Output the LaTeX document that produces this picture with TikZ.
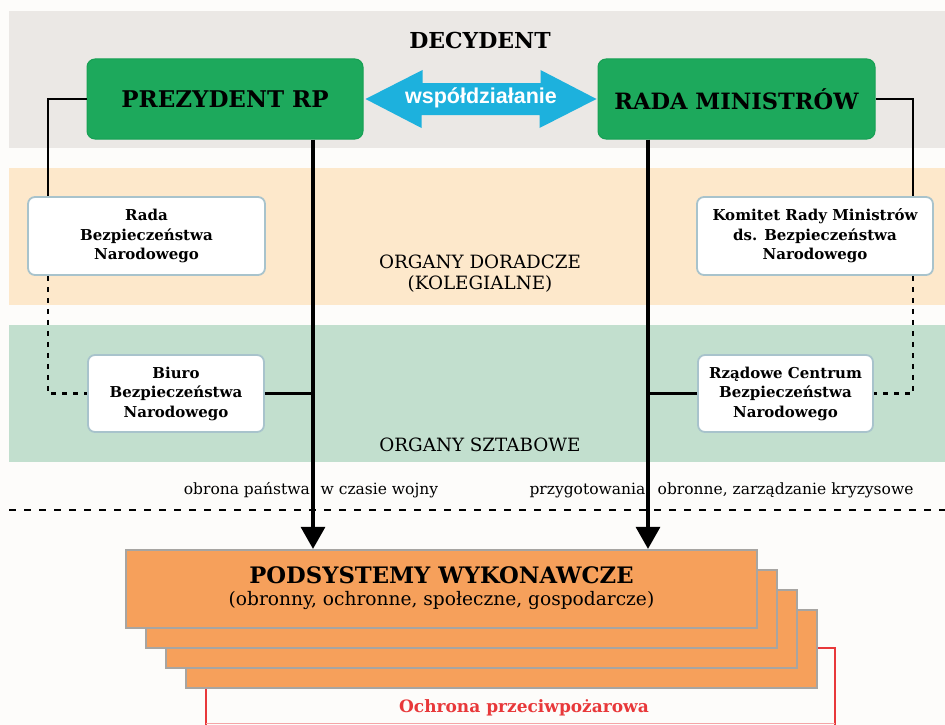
\documentclass[tikz,border=0pt]{standalone}
\usepackage{fontspec}
\setmainfont{DejaVu Serif}
\newfontfamily\sansb{Liberation Sans}
\usetikzlibrary{arrows.meta,calc}
\definecolor{bgw}{HTML}{FDFCFA}
\definecolor{bandgray}{HTML}{EBE8E5}
\definecolor{bandpeach}{HTML}{FDE8CB}
\definecolor{bandgreen}{HTML}{C2DFCE}
\definecolor{gbox}{HTML}{1DA95C}
\definecolor{gboxd}{HTML}{17A054}
\definecolor{cyanar}{HTML}{1DB1DD}
\definecolor{wborder}{HTML}{A8C3CC}
\definecolor{orfill}{HTML}{F6A05B}
\definecolor{orborder}{HTML}{A7A5A2}
\definecolor{redl}{HTML}{E8383A}
\tikzset{
  decbox/.style={draw=gboxd, line width=1pt, fill=gbox, rounded corners=8pt,
    minimum width=276pt, minimum height=80pt, inner sep=0pt,
    font=\fontsize{23}{27}\selectfont\bfseries},
  orgbox/.style={draw=wborder, line width=1.8pt, fill=white, rounded corners=7pt,
    align=center, inner sep=0pt, minimum height=77pt,
    font=\fontsize{15}{19.5}\selectfont\bfseries},
  lbl/.style={inner sep=0pt, align=center, font=\fontsize{18.3}{21}\selectfont},
  small/.style={inner sep=0pt, font=\fontsize{15.5}{18}\selectfont},
  conn/.style={line width=2.4pt, black},
  thick conn/.style={line width=3.2pt, black},
  dconn/.style={line width=2.4pt, black, dash pattern=on 5pt off 6pt},
  downarrow/.style={line width=3.2pt, black, -{Triangle[width=24pt,length=22pt]}},
  layer/.style={draw=orborder, line width=2.2pt, fill=orfill,
    minimum width=631pt, minimum height=78pt, inner sep=0pt},
}
\begin{document}
\begin{tikzpicture}[x=1pt,y=-1pt]
\useasboundingbox (0,0) rectangle (945,725);
\fill[bgw] (0,0) rectangle (945,725);
% bands
\fill[bandgray] (9,11) rectangle (945,148);
\fill[bandpeach] (9,168) rectangle (945,305);
\fill[bandgreen] (9,325) rectangle (945,462);
% dashed separator
\draw[line width=2.4pt, dash pattern=on 7pt off 8pt] (9,510) -- (945,510);

% title
\node[inner sep=0pt, font=\fontsize{22}{26}\selectfont\bfseries] (dec) at (480,40) {DECYDENT};

% decision nodes
\node[decbox] (pres) at (225,99) {PREZYDENT RP};
\node[decbox, minimum width=277pt, font=\fontsize{22.5}{27}\selectfont\bfseries] (rada) at (736.5,99) {RADA MINISTRÓW};

% cooperation double arrow
\fill[cyanar] ($(pres.east)+(2,0)$) -- ++(57,-29) -- ++(0,13) -- ++(118,0) -- ++(0,-13)
  -- ($(rada.west)+(-1,0)$) -- ++(-57,29) -- ++(0,-13) -- ++(-118,0) -- ++(0,13) -- cycle;
\node[inner sep=0pt, text=white, font=\sansb\fontsize{21.5}{25}\selectfont\bfseries] (wsp) at (481,98) {współdziałanie};

% advisory bodies
\node[orgbox, minimum width=237pt, minimum height=78pt] (rbn) at (146.5,236) {Rada\\Bezpieczeństwa\\Narodowego};
\node[orgbox, minimum width=236pt, minimum height=78pt] (krm) at (815,236) {Komitet Rady Ministrów\\ds. Bezpieczeństwa\\Narodowego};
% staff bodies
\node[orgbox, minimum width=176pt] (bbn) at (176,393.5) {Biuro\\Bezpieczeństwa\\Narodowego};
\node[orgbox, minimum width=175pt] (rcb) at (785.5,393.5) {Rządowe Centrum\\Bezpieczeństwa\\Narodowego};

% band labels
\node[lbl] (doradcze) at (480,274) {ORGANY DORADCZE\\(KOLEGIALNE)};
\node[lbl] (sztabowe) at (480,445) {ORGANY SZTABOWE};

% executive subsystems stack
\draw[redl, line width=2.8pt] (206,726) -- (206,648) -- (835,648) -- (835,726);
\draw[redl!45, line width=1pt] (206,723.5) -- (835,723.5);
\node[inner sep=0pt, text=redl, font=\fontsize{17}{20}\selectfont\bfseries] (ochrona) at (524,708) {Ochrona przeciwpożarowa};
\node[layer] (os4) at (501.5,649) {};
\node[layer] (os3) at (481.5,629) {};
\node[layer] (os2) at (461.5,609) {};
\node[layer] (os1) at (441.5,589) {};
\node[inner sep=0pt, font=\fontsize{22.7}{26}\selectfont\bfseries] (podt) at (441.5,575) {PODSYSTEMY WYKONAWCZE};
\node[inner sep=0pt, font=\fontsize{18.6}{21}\selectfont] (pods) at (441.5,600) {(obronny, ochronne, społeczne, gospodarcze)};

% flow labels
\node[small] (wojna) at (311,490) {obrona państwa\hspace{0.7em}w czasie wojny};
\node[small] (przyg) at (721.5,490) {przygotowania\hspace{0.8em}obronne, zarządzanie kryzysowe};

% coordinates for connector routes
\coordinate (lx) at (48,99);
\coordinate (rx) at (913,99);
\coordinate (px) at (313,0);
\coordinate (qx) at (648,0);

% president side
\draw[conn] (pres.west) -- (lx) -- (lx |- rbn.north);
\draw[dconn] (lx |- rbn.south) -- (lx |- bbn.west) -- (bbn.west);
\draw[downarrow] (pres.south -| px) -- (os1.north -| px);
\draw[thick conn] (bbn.east) -- (bbn.east -| px);

% government side
\draw[conn] (rada.east) -- (rx) -- (rx |- krm.north);
\draw[dconn] (rx |- krm.south) -- (rx |- rcb.east) -- (rcb.east);
\draw[downarrow] (rada.south -| qx) -- (os1.north -| qx);
\draw[thick conn] (rcb.west) -- (rcb.west -| qx);
\end{tikzpicture}
\end{document}
